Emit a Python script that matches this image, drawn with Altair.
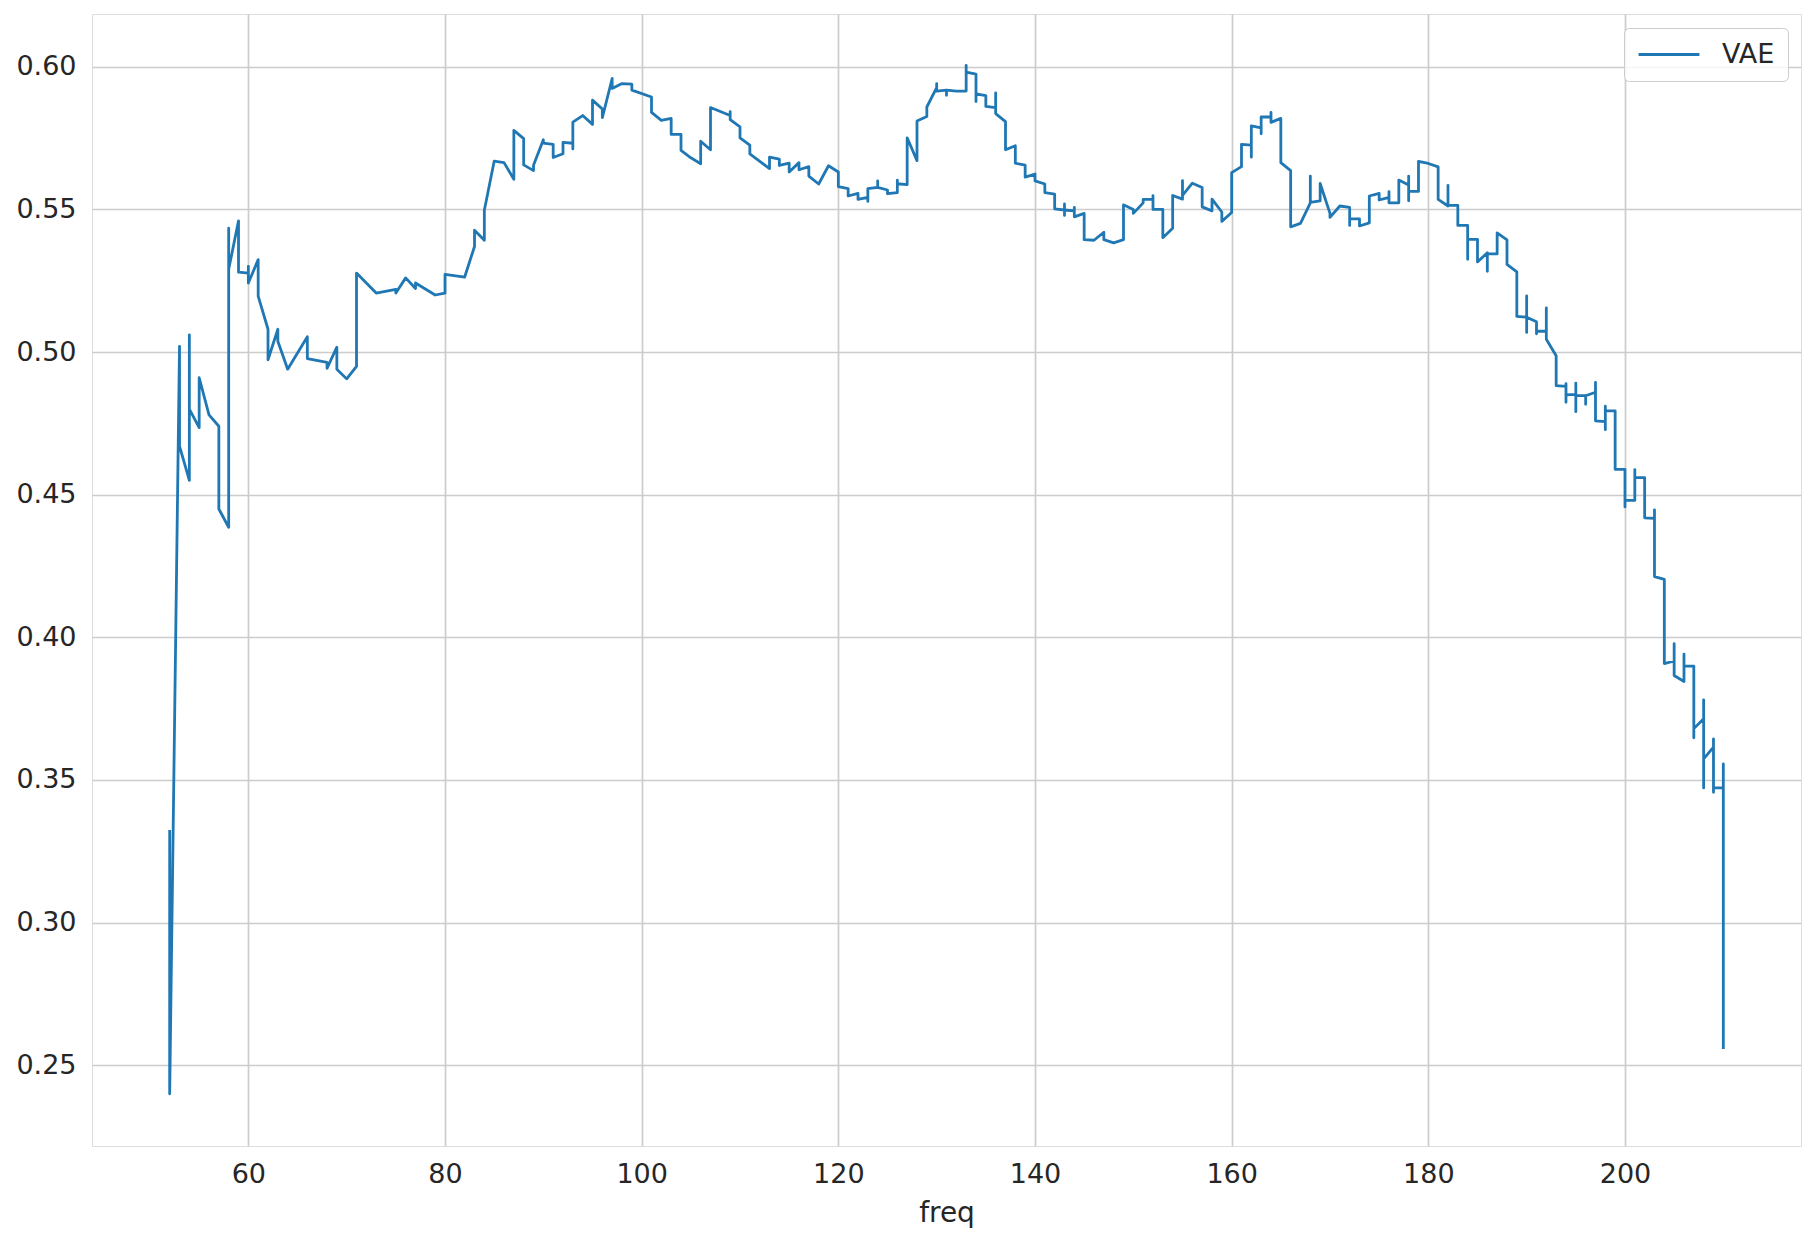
import altair as alt
import pandas as pd

freq = [
    52, 52, 53, 53, 54, 54, 54, 55, 55, 56, 57, 57, 58, 58, 58, 59, 59, 60, 60, 60,
    61, 61, 62, 62, 63, 63, 64, 66, 66, 68, 68, 69, 69, 70, 71, 71, 73, 75, 75, 76,
    77, 77, 79, 80, 80, 82, 83, 83, 84, 84, 85, 86, 87, 87, 88, 88, 89, 89, 90, 90,
    91, 91, 92, 92, 93, 93, 93, 94, 95, 95, 96, 96, 97, 97, 98, 99, 99, 101, 101, 102,
    103, 103, 104, 104, 105, 106, 106, 107, 107, 109, 109, 109, 110, 110, 111, 111, 113, 113, 114, 114,
    115, 115, 116, 116, 117, 117, 118, 119, 120, 120, 121, 121, 122, 122, 123, 123, 123, 124, 124, 124,
    125, 125, 126, 126, 126, 127, 127, 128, 128, 129, 129, 130, 130, 130, 131, 131, 131, 132, 133, 133,
    133, 134, 134, 134, 135, 135, 136, 136, 136, 137, 137, 138, 138, 139, 139, 140, 140, 141, 141, 142,
    142, 143, 143, 143, 143, 144, 144, 144, 145, 145, 146, 147, 147, 148, 149, 149, 150, 150, 151, 151,
    152, 152, 152, 153, 153, 154, 154, 155, 155, 155, 156, 157, 157, 158, 158, 159, 159, 160, 160, 161,
    161, 162, 162, 162, 163, 163, 163, 164, 164, 164, 165, 165, 166, 166, 167, 168, 168, 168, 169, 169,
    170, 170, 171, 172, 172, 172, 173, 173, 174, 174, 175, 175, 176, 176, 176, 177, 177, 178, 178, 178,
    178, 179, 179, 180, 181, 181, 182, 182, 182, 183, 183, 184, 184, 184, 185, 185, 186, 186, 186, 187,
    187, 188, 188, 189, 189, 190, 190, 190, 190, 191, 191, 191, 192, 192, 192, 193, 193, 194, 194, 194,
    194, 195, 195, 195, 195, 196, 196, 196, 197, 197, 197, 198, 198, 198, 198, 199, 199, 200, 200, 200,
    201, 201, 201, 202, 202, 203, 203, 203, 204, 204, 205, 205, 205, 206, 206, 206, 207, 207, 207, 208,
    208, 208, 208, 209, 209, 209, 209, 210, 210, 210,
]

value = [
    0.332, 0.240, 0.502, 0.467, 0.455, 0.506, 0.480, 0.4735, 0.491, 0.478, 0.474, 0.445, 0.4386, 0.5434, 0.529, 0.546, 0.528, 0.5277, 0.530, 0.5242,
    0.5324, 0.5196, 0.508, 0.4973, 0.508, 0.5038, 0.494, 0.5054, 0.4977, 0.4964, 0.4943, 0.5017, 0.494, 0.4906, 0.495, 0.5277, 0.5207, 0.522, 0.5207, 0.526,
    0.5223, 0.5242, 0.520, 0.5207, 0.5272, 0.5263, 0.537, 0.5427, 0.5392, 0.5497, 0.5669, 0.5664, 0.5606, 0.5777, 0.5748, 0.5656, 0.5636, 0.5655, 0.5744, 0.5732,
    0.5728, 0.5682, 0.5695, 0.5735, 0.5732, 0.5712, 0.5806, 0.5829, 0.5798, 0.5883, 0.5852, 0.5822, 0.5959, 0.5924, 0.5941, 0.5939, 0.5918, 0.5894, 0.584, 0.5812,
    0.5819, 0.5763, 0.5763, 0.5707, 0.5681, 0.566, 0.5739, 0.5709, 0.5857, 0.5829, 0.5843, 0.5815, 0.5789, 0.5751, 0.5725, 0.5695, 0.5643, 0.5683, 0.5676, 0.5654,
    0.5662, 0.5631, 0.5664, 0.5639, 0.565, 0.5617, 0.5589, 0.5653, 0.5631, 0.558, 0.5573, 0.5547, 0.5556, 0.5535, 0.5542, 0.5528, 0.5573, 0.5577, 0.5600, 0.5577,
    0.5568, 0.5555, 0.5559, 0.5603, 0.5590, 0.5587, 0.5751, 0.5671, 0.581, 0.5826, 0.5859, 0.5927, 0.5941, 0.5915, 0.5918, 0.5900, 0.5918, 0.5915, 0.5915, 0.6005,
    0.5981, 0.5974, 0.5878, 0.5905, 0.5899, 0.5861, 0.5857, 0.5908, 0.5836, 0.5808, 0.5709, 0.5723, 0.5662, 0.5655, 0.5613, 0.5624, 0.5600, 0.5589, 0.5559, 0.5554,
    0.5502, 0.5498, 0.5519, 0.5479, 0.5498, 0.5495, 0.5507, 0.5474, 0.5486, 0.5394, 0.5392, 0.5420, 0.5394, 0.5383, 0.5394, 0.5516, 0.5500, 0.5486, 0.5523, 0.5535,
    0.5536, 0.5548, 0.5500, 0.5500, 0.5401, 0.5434, 0.5549, 0.5536, 0.5601, 0.5549, 0.5592, 0.5577, 0.5509, 0.5495, 0.5536, 0.5491, 0.5458, 0.5489, 0.5629, 0.5650,
    0.5728, 0.5725, 0.5683, 0.5793, 0.5786, 0.5765, 0.5824, 0.5824, 0.5840, 0.5805, 0.5819, 0.5664, 0.5636, 0.5439, 0.5451, 0.5523, 0.5617, 0.5525, 0.5530, 0.5591,
    0.5486, 0.5472, 0.5512, 0.5507, 0.5444, 0.5467, 0.5467, 0.5442, 0.5453, 0.5547, 0.5556, 0.5533, 0.5542, 0.5562, 0.5523, 0.5523, 0.5603, 0.5586, 0.5617, 0.5530,
    0.5563, 0.5563, 0.5668, 0.5661, 0.5649, 0.5535, 0.5512, 0.5584, 0.5514, 0.5514, 0.5444, 0.5444, 0.5325, 0.5395, 0.5395, 0.5316, 0.5348, 0.5283, 0.5344, 0.5344,
    0.5418, 0.5393, 0.5307, 0.5281, 0.5125, 0.5122, 0.5197, 0.5069, 0.5122, 0.5106, 0.5064, 0.5073, 0.5073, 0.5155, 0.5045, 0.4987, 0.4882, 0.4880, 0.4889, 0.4824,
    0.4850, 0.4852, 0.4891, 0.4791, 0.4847, 0.4847, 0.4817, 0.4847, 0.4859, 0.4894, 0.4759, 0.4756, 0.4810, 0.4728, 0.4794, 0.4794, 0.4589, 0.4589, 0.4457, 0.4480,
    0.4480, 0.4588, 0.4560, 0.4560, 0.4419, 0.4417, 0.4447, 0.4213, 0.4203, 0.3908, 0.3917, 0.3978, 0.3866, 0.3845, 0.3941, 0.3899, 0.3899, 0.3648, 0.3680, 0.3715,
    0.3781, 0.3472, 0.3574, 0.3615, 0.3644, 0.3457, 0.3472, 0.3472, 0.3556, 0.2562,
]

series_name = "VAE"
x_ticks = [60, 80, 100, 120, 140, 160, 180, 200]
y_ticks = [0.25, 0.30, 0.35, 0.40, 0.45, 0.50, 0.55, 0.60]

n = min(len(freq), len(value))
df = pd.DataFrame({
    "freq": freq[:n],
    "value": value[:n],
    "idx": list(range(n)),
    "series": [series_name] * n,
})

FONT = "DejaVu Sans"
TXT = "#262626"
GRID = "#cccccc"

chart = alt.Chart(df).mark_line(
    strokeWidth=2.8, strokeJoin="round", strokeCap="square"
).encode(
    x=alt.X(
        "freq:Q",
        scale=alt.Scale(domain=[44.1, 217.9], nice=False, zero=False),
        axis=alt.Axis(
            values=x_ticks, format="d", title="freq", ticks=False, tickSize=0,
            labelPadding=15, labelFontSize=27, labelColor=TXT, labelFont=FONT,
            titleFontSize=28, titleColor=TXT, titleFont=FONT, titleFontWeight="normal",
            titleY=75, titleBaseline="alphabetic",
            grid=True, gridColor=GRID, gridWidth=1.7, domain=False,
        ),
    ),
    y=alt.Y(
        "value:Q",
        scale=alt.Scale(domain=[0.2217, 0.6185], nice=False, zero=False),
        axis=alt.Axis(
            values=y_ticks, format=".2f", title=None, ticks=False, tickSize=0,
            labelPadding=16, labelFontSize=27, labelColor=TXT, labelFont=FONT,
            grid=True, gridColor=GRID, gridWidth=1.7, domain=False,
        ),
    ),
    order=alt.Order("idx:Q"),
    color=alt.Color(
        "series:N",
        scale=alt.Scale(domain=[series_name], range=["#1f77b4"]),
        legend=alt.Legend(
            title=None, orient="none", legendX=1532, legendY=14,
            symbolType="stroke", symbolSize=3700, symbolStrokeWidth=2.8,
            clipHeight=27, labelOffset=21, labelFontSize=27, labelFont=FONT,
            labelColor=TXT, padding=13, cornerRadius=5,
            strokeColor=GRID, fillColor="rgba(255,255,255,0.8)",
        ),
    ),
).properties(
    width=1709,
    height=1132,
    padding={"left": 92, "top": 14, "right": 14, "bottom": 96},
    autosize=alt.AutoSizeParams(type="none"),
).configure_view(
    stroke=GRID, strokeWidth=2
).configure(
    background="white"
)

chart.save("out.html", embed_options={"renderer": "svg", "actions": False})
